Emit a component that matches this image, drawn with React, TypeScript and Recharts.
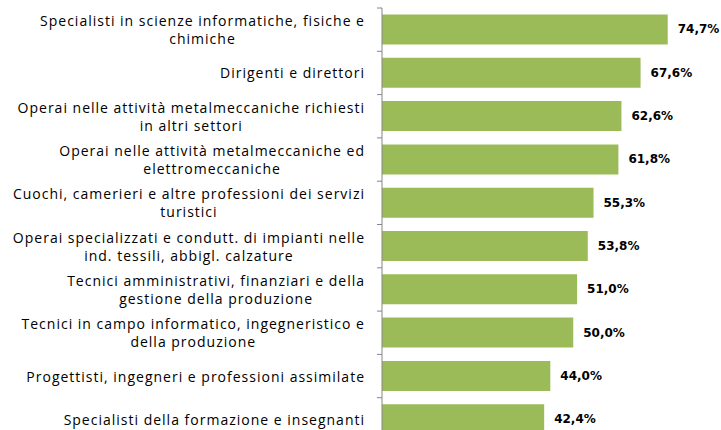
import { BarChart, Bar, XAxis, YAxis, LabelList } from "recharts";

const categories = [
  "Specialisti in scienze informatiche, fisiche e\nchimiche",
  "Dirigenti e direttori",
  "Operai nelle attività metalmeccaniche richiesti\nin altri settori",
  "Operai nelle attività metalmeccaniche ed\nelettromeccaniche",
  "Cuochi, camerieri e altre professioni dei servizi\nturistici",
  "Operai specializzati e condutt. di impianti nelle\nind. tessili, abbigl. calzature",
  "Tecnici amministrativi, finanziari e della\ngestione della produzione",
  "Tecnici in campo informatico, ingegneristico e\ndella produzione",
  "Progettisti, ingegneri e professioni assimilate",
  "Specialisti della formazione e insegnanti",
];

const values = [74.7, 67.6, 62.6, 61.8, 55.3, 53.8, 51.0, 50.0, 44.0, 42.4];

const data = categories.map((name, i) => ({ name, value: values[i] }));

const CHART_W = 721;
const CHART_H = 441;
const MARGIN = { top: 8, right: 33, bottom: 0, left: 0 };
const FONT_SIZE = 14;
const LETTER_SP = 1;

let ctx: CanvasRenderingContext2D | null = null;
function measure(text: string) {
  if (!ctx) ctx = document.createElement("canvas").getContext("2d");
  if (!ctx) return text.length * 7;
  ctx.font = `${FONT_SIZE}px 'Open Sans'`;
  return ctx.measureText(text).width + text.length * LETTER_SP;
}

const band = (CHART_H - MARGIN.top - MARGIN.bottom) / categories.length;

const CategoryTick = ({ x, y, payload, index }: any) => {
  const lines = String(payload.value).split("\n");
  const half = payload.offset || band / 2;
  const right = x - 17;
  const maxW = Math.max(...lines.map(measure));
  const cx = right - maxW / 2;
  const lineH = 18;
  const startY = y - ((lines.length - 1) * lineH) / 2;
  return (
    <g>
      <line x1={x - 5} x2={x} y1={y - half} y2={y - half} stroke="#868686" />
      {index === categories.length - 1 && (
        <line x1={x - 5} x2={x} y1={y + half} y2={y + half} stroke="#868686" />
      )}
      {lines.map((l, i) => (
        <text
          key={i}
          x={lines.length > 1 ? cx : right}
          y={startY + i * lineH}
          textAnchor={lines.length > 1 ? "middle" : "end"}
          dominantBaseline="central"
          fontFamily="Open Sans"
          fontSize={FONT_SIZE}
          letterSpacing={LETTER_SP}
          fill="#000"
        >
          {l}
        </text>
      ))}
    </g>
  );
};

const ValueLabel = ({ x, y, width, height, value }: any) => (
  <text
    x={x + width + 10}
    y={y + height / 2}
    dominantBaseline="central"
    fontFamily="DejaVu Sans"
    fontWeight="bold"
    fontSize={12}
    fill="#000"
  >
    {Number(value).toFixed(1).replace(".", ",") + "%"}
  </text>
);

export default function App() {
  return (
    <div
      style={{
        position: "absolute",
        left: 0,
        top: 0,
        width: CHART_W,
        height: 430,
        overflow: "hidden",
        background: "#fff",
      }}
    >
      <BarChart
        width={CHART_W}
        height={CHART_H}
        data={data}
        layout="vertical"
        margin={MARGIN}
        barCategoryGap="15%"
      >
        <XAxis type="number" domain={[0, 80]} hide />
        <YAxis
          type="category"
          dataKey="name"
          width={382}
          axisLine={{ stroke: "#868686" }}
          tickLine={false}
          tickSize={0}
          tickMargin={0}
          interval={0}
          tick={<CategoryTick />}
        />
        <Bar dataKey="value" fill="#9BBB59" isAnimationActive={false}>
          <LabelList dataKey="value" content={<ValueLabel />} />
        </Bar>
      </BarChart>
    </div>
  );
}
